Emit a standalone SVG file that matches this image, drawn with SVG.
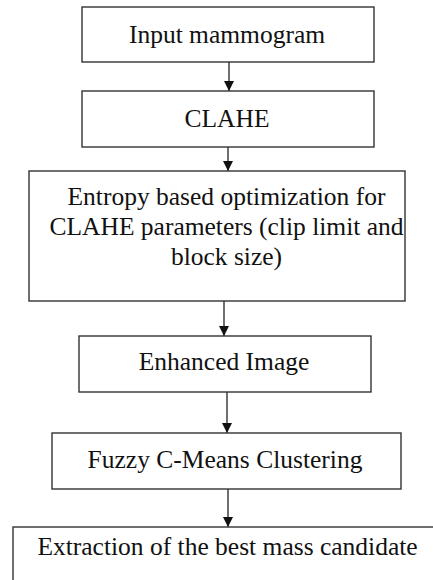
<svg xmlns="http://www.w3.org/2000/svg" width="433" height="580" viewBox="0 0 433 580">
<defs>
<style>
.box{fill:#fff;stroke:#333;stroke-width:1.4}
.t{font-family:'Liberation Serif','Times New Roman',serif;font-size:25.5px;fill:#111;text-anchor:middle}
.c{stroke:#222;stroke-width:1.3;fill:none}
</style>
<marker id="ah" viewBox="0 0 10 12" refX="10" refY="6" markerWidth="10" markerHeight="12" markerUnits="userSpaceOnUse" orient="auto">
<path d="M0,1 L10,6 L0,11 Z" fill="#111"/>
</marker>
</defs>
<rect width="433" height="580" fill="#fff"/>
<g id="connectors">
<line class="c" x1="229" y1="62" x2="229" y2="91" marker-end="url(#ah)"/>
<line class="c" x1="228" y1="147" x2="228" y2="171" marker-end="url(#ah)"/>
<line class="c" x1="224" y1="301" x2="224" y2="336" marker-end="url(#ah)"/>
<line class="c" x1="227" y1="392" x2="227" y2="433" marker-end="url(#ah)"/>
<line class="c" x1="228" y1="489" x2="228" y2="527" marker-end="url(#ah)"/>
</g>
<g id="n1"><rect class="box" x="82" y="7" width="292" height="55"/><text class="t" x="227" y="43">Input mammogram</text></g>
<g id="n2"><rect class="box" x="82" y="91" width="292" height="56"/><text class="t" x="227" y="127">CLAHE</text></g>
<g id="n3"><rect class="box" x="29" y="171" width="376" height="130"/>
<text class="t" x="226.5" y="205">Entropy based optimization for</text>
<text class="t" x="226.5" y="235">CLAHE parameters (clip limit and</text>
<text class="t" x="226.5" y="265">block size)</text></g>
<g id="n4"><rect class="box" x="79" y="336" width="292" height="56"/><text class="t" x="224" y="370">Enhanced Image</text></g>
<g id="n5"><rect class="box" x="52" y="433" width="349" height="56"/><text class="t" x="225" y="468">Fuzzy C-Means Clustering</text></g>
<g id="n6"><rect class="box" x="13" y="527" width="430" height="80"/><text class="t" x="227.5" y="555">Extraction of the best mass candidate</text></g>
</svg>
